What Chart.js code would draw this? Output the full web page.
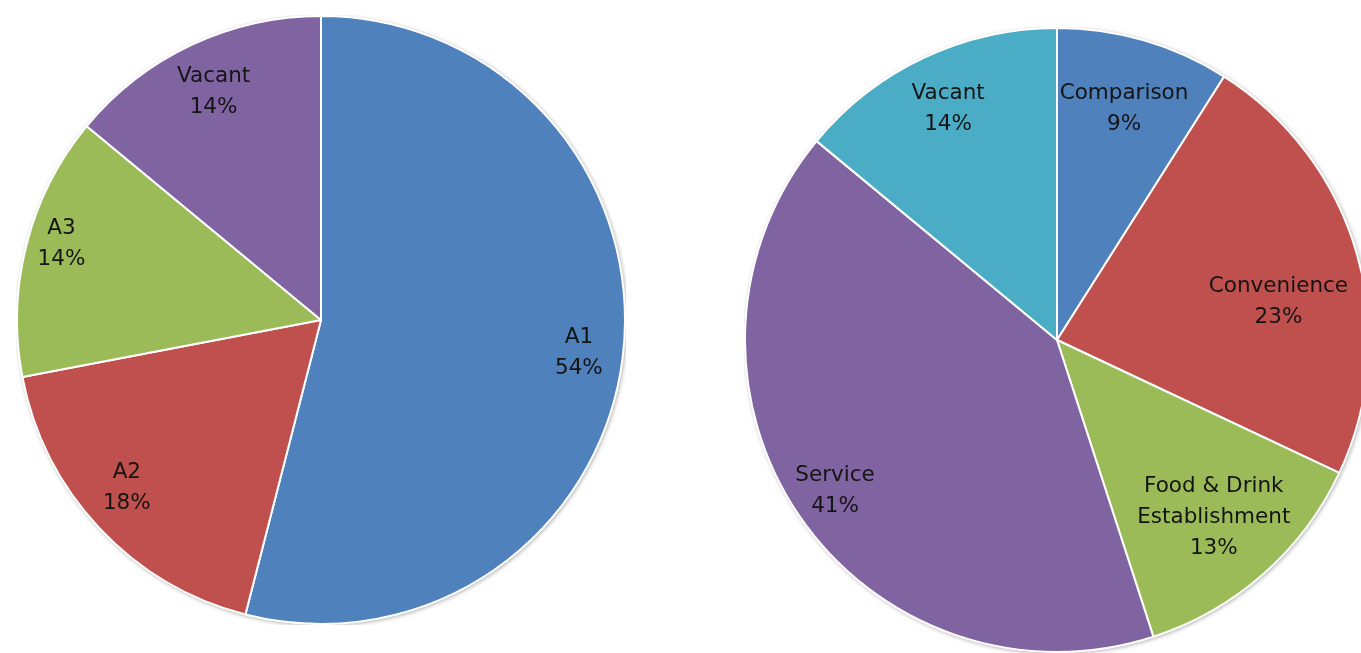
<!DOCTYPE html>
<html>
<head>
<meta charset="utf-8">
<script src="https://cdn.jsdelivr.net/npm/chart.js@4"></script>
<style>
  html, body { margin: 0; padding: 0; background: #fff; overflow: hidden; width: 1361px; height: 653px; }
  .pie { position: absolute; }
  #leftBox { left: 16px; top: 15px; }
  #rightBox { left: 744px; top: 27px; }
</style>
</head>
<body>
<div class="pie" id="leftBox"><canvas id="leftChart" width="610" height="610"></canvas></div>
<div class="pie" id="rightBox"><canvas id="rightChart" width="626" height="626"></canvas></div>
<script>
// use classes
const useLabels = ['A1', 'A2', 'A3', 'Vacant'];
const useValues = [54, 18, 14, 14];
const useColors = ['#4F81BD', '#C0504D', '#9BBB59', '#8064A2'];

// retail types
const typeLabels = ['Comparison', 'Convenience', ['Food & Drink', 'Establishment'], 'Service', 'Vacant'];
const typeValues = [9, 23, 13, 41, 14];
const typeColors = ['#4F81BD', '#C0504D', '#9BBB59', '#8064A2', '#4BACC6'];

// label placement: fraction of radius, plus a small angle nudge (degrees)
const useLabelDist = [0.855, 0.845, 0.89, 0.83];
const useLabelTurn = [0, 2.3, 2, 0];
const typeLabelDist = [0.77, 0.72, 0.76, 0.86, 0.82];
const typeLabelTurn = [0, 6.5, 0, 0, 0];

// soft grey edge behind the pie
const pieShadow = {
  id: 'pieShadow',
  beforeDatasetsDraw(chart) {
    const arc = chart.getDatasetMeta(0).data[0];
    if (!arc) return;
    const ctx = chart.ctx;
    ctx.save();
    ctx.beginPath();
    ctx.arc(arc.x, arc.y, arc.outerRadius + 0.5, 0, Math.PI * 2);
    ctx.shadowColor = 'rgba(0,0,0,0.35)';
    ctx.shadowBlur = 4;
    ctx.shadowOffsetX = 1;
    ctx.shadowOffsetY = 1;
    ctx.fillStyle = '#fff';
    ctx.fill();
    ctx.restore();
  }
};

// category name + percentage inside each slice
const sliceLabels = {
  id: 'sliceLabels',
  afterDatasetsDraw(chart, args, opts) {
    const ctx = chart.ctx;
    const ds = chart.data.datasets[0];
    const total = ds.data.reduce((a, b) => a + b, 0);
    ctx.save();
    ctx.font = '21.5px "DejaVu Sans"';
    ctx.fillStyle = '#141414';
    ctx.textAlign = 'center';
    ctx.textBaseline = 'middle';
    chart.getDatasetMeta(0).data.forEach((arc, i) => {
      const p = arc.getProps(['x', 'y', 'startAngle', 'endAngle', 'outerRadius']);
      const mid = (p.startAngle + p.endAngle) / 2 + (opts.turn[i] || 0) * Math.PI / 180;
      const r = p.outerRadius * opts.dist[i];
      const cx = p.x + Math.cos(mid) * r;
      const cy = p.y + Math.sin(mid) * r;
      const name = chart.data.labels[i];
      const lines = (Array.isArray(name) ? name : [name]).concat(Math.round(ds.data[i] / total * 100) + '%');
      const lh = 31;
      const top = cy - (lines.length - 1) * lh / 2;
      lines.forEach((t, k) => ctx.fillText(t, cx, top + k * lh));
    });
    ctx.restore();
  }
};

function makePie(id, labels, values, colors, dist, turn) {
  return new Chart(document.getElementById(id), {
    type: 'pie',
    data: {
      labels: labels,
      datasets: [{
        data: values,
        backgroundColor: colors,
        borderColor: '#ffffff',
        borderWidth: 2
      }]
    },
    options: {
      responsive: false,
      animation: false,
      layout: { padding: 0 },
      plugins: {
        legend: { display: false },
        tooltip: { enabled: false },
        sliceLabels: { dist: dist, turn: turn }
      }
    },
    plugins: [pieShadow, sliceLabels]
  });
}

makePie('leftChart', useLabels, useValues, useColors, useLabelDist, useLabelTurn);
makePie('rightChart', typeLabels, typeValues, typeColors, typeLabelDist, typeLabelTurn);
</script>
</body>
</html>
